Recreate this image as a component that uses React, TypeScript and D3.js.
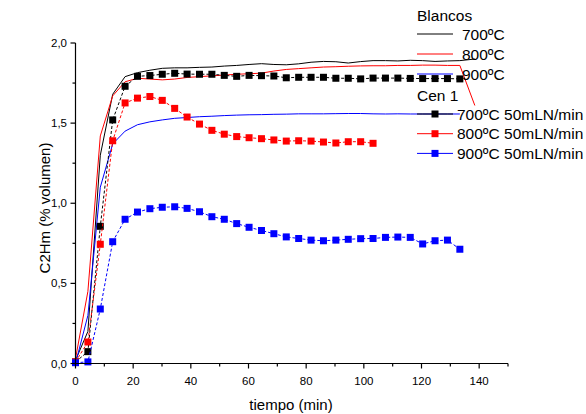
import React from "react";
import * as d3 from "d3";

// Sampling times (min)
const timesCen = [0, 4.3, 8.6, 12.9, 17.2, 21.5, 25.8, 30.1, 34.4, 38.7, 43, 47.3, 51.6, 55.9, 60.2, 64.5, 68.8, 73.1, 77.4, 81.7, 86, 90.3, 94.6, 98.9, 103.2, 107.5, 111.8, 116.1, 120.4, 124.7, 129, 133.3];
const timesBlanco = [0, 4.3, 8.6, 12.9, 17.2, 21.5, 25.8, 30.1, 34.4, 38.7, 43, 47.3, 51.6, 55.9, 60.2, 64.5, 68.8, 73.1, 77.4, 81.7, 86, 90.3, 94.6, 98.9, 103.2, 107.5, 111.8, 116.1, 120.4, 124.7, 129, 133.3, 138.5];

// Blancos (thin lines)
const blanco700 = [0.02, 0.2, 1.3, 1.68, 1.79, 1.815, 1.83, 1.842, 1.845, 1.845, 1.848, 1.85, 1.856, 1.86, 1.866, 1.871, 1.866, 1.864, 1.87, 1.88, 1.885, 1.883, 1.875, 1.884, 1.89, 1.89, 1.888, 1.892, 1.89, 1.885, 1.888, 1.89, 1.9];
const blanco800 = [0.03, 0.45, 1.42, 1.67, 1.758, 1.78, 1.775, 1.77, 1.775, 1.785, 1.79, 1.795, 1.8, 1.805, 1.808, 1.812, 1.825, 1.835, 1.84, 1.845, 1.85, 1.852, 1.855, 1.857, 1.858, 1.858, 1.86, 1.86, 1.862, 1.862, 1.86, 1.86, 1.61];
const blanco900 = [0.0, 0.3, 1.1, 1.37, 1.45, 1.49, 1.508, 1.52, 1.53, 1.535, 1.54, 1.543, 1.547, 1.55, 1.552, 1.553, 1.555, 1.556, 1.558, 1.558, 1.558, 1.559, 1.56, 1.56, 1.558, 1.557, 1.558, 1.557, 1.557, 1.557, 1.557, 1.557];

// Cen 1 at 50 mLN/min (squares)
const cen700 = [0.01, 0.074, 0.856, 1.52, 1.73, 1.792, 1.797, 1.805, 1.811, 1.806, 1.805, 1.805, 1.798, 1.792, 1.798, 1.796, 1.794, 1.783, 1.786, 1.786, 1.786, 1.78, 1.78, 1.776, 1.781, 1.781, 1.781, 1.779, 1.778, 1.778, 1.778, 1.776];
const cen800 = [0.01, 0.134, 0.744, 1.39, 1.626, 1.656, 1.666, 1.642, 1.592, 1.538, 1.494, 1.455, 1.431, 1.416, 1.409, 1.403, 1.395, 1.388, 1.39, 1.388, 1.382, 1.376, 1.384, 1.384, 1.374];
const cen900 = [0.005, 0.01, 0.34, 0.76, 0.9, 0.945, 0.966, 0.975, 0.978, 0.968, 0.947, 0.916, 0.9, 0.873, 0.85, 0.83, 0.81, 0.79, 0.78, 0.77, 0.766, 0.77, 0.775, 0.779, 0.78, 0.787, 0.789, 0.787, 0.746, 0.766, 0.77, 0.713];

const xTicks = [0, 20, 40, 60, 80, 100, 120, 140];
const yTicks = [0, 0.5, 1.0, 1.5, 2.0];

const blancoSeries = [
  { label: "700ºC", color: "#000000", values: blanco700 },
  { label: "800ºC", color: "#ff0000", values: blanco800 },
  { label: "900ºC", color: "#0000ff", values: blanco900 },
];
const cenSeries = [
  { label: "700ºC 50mLN/min", color: "#000000", values: cen700 },
  { label: "800ºC 50mLN/min", color: "#ff0000", values: cen800 },
  { label: "900ºC 50mLN/min", color: "#0000ff", values: cen900 },
];

const W = 586;
const H = 414;
const FONT = "'Liberation Sans', Arial, sans-serif";

export default function App() {
  const x = d3.scaleLinear().domain([0, 150]).range([75.5, 508]);
  const y = d3.scaleLinear().domain([0, 2]).range([363.5, 43]);
  const fmt = (v: number) => d3.format(".1f")(v).replace(".", ",");

  const line = (times: number[]) =>
    d3
      .line<number>()
      .x((_, i) => x(times[i]))
      .y((v) => y(v));

  const sq = 7;
  const minorX = d3.range(0, 151, 10);
  const minorY = d3.range(0, 2.01, 0.25);

  return (
    <svg
      width={W}
      height={H}
      style={{ position: "absolute", left: 0, top: 0, background: "#fff" }}
      fontFamily={FONT}
    >
      {/* blank runs */}
      {blancoSeries.map((s) => (
        <path
          key={s.label}
          d={line(timesBlanco)(s.values) || ""}
          fill="none"
          stroke={s.color}
          strokeWidth={1}
        />
      ))}
      {/* Cen 1 runs */}
      {cenSeries.map((s) => (
        <g key={s.label}>
          <path
            d={line(timesCen)(s.values) || ""}
            fill="none"
            stroke={s.color}
            strokeWidth={1}
            strokeDasharray="3,2"
          />
          {s.values.map((v, i) => (
            <rect
              key={i}
              x={x(timesCen[i]) - sq / 2}
              y={y(v) - sq / 2}
              width={sq}
              height={sq}
              fill={s.color}
            />
          ))}
        </g>
      ))}

      {/* axes */}
      <g stroke="#000" strokeWidth={1.2}>
        <line x1={x(0)} x2={x(0)} y1={y(0) + 0.6} y2={y(2)} />
        <line x1={x(0)} x2={x(150)} y1={y(0)} y2={y(0)} />
        {minorX.map((t) => (
          <line key={"xt" + t} x1={x(t)} x2={x(t)} y1={y(0)} y2={y(0) + (t % 20 === 0 ? 5 : 3)} />
        ))}
        {minorY.map((t) => (
          <line
            key={"yt" + t}
            x1={x(0)}
            x2={x(0) - (Math.abs(t * 2 - Math.round(t * 2)) < 1e-6 ? 5 : 3)}
            y1={y(t)}
            y2={y(t)}
          />
        ))}
      </g>
      <g fontSize={11.5} fill="#000">
        {xTicks.map((t) => (
          <text key={"xl" + t} x={x(t)} y={385} textAnchor="middle">
            {t}
          </text>
        ))}
        {yTicks.map((t) => (
          <text key={"yl" + t} x={67} y={y(t) + 4} textAnchor="end">
            {fmt(t)}
          </text>
        ))}
      </g>
      <text x={291} y={410} fontSize={15} textAnchor="middle">
        tiempo (min)
      </text>
      <text
        transform={`translate(50,${208}) rotate(-90)`}
        fontSize={15}
        textAnchor="middle"
      >
        C2Hm (% volumen)
      </text>

      {/* legend */}
      <g fontSize={15.5}>
        <text x={417} y={21}>Blancos</text>
        {blancoSeries.map((s, i) => (
          <g key={s.label}>
            <line x1={417} x2={453} y1={34 + i * 20} y2={34 + i * 20} stroke={s.color} strokeWidth={1} />
            <text x={462} y={34 + i * 20 + 5.5}>{s.label}</text>
          </g>
        ))}
        <text x={417} y={100.5}>Cen 1</text>
        {cenSeries.map((s, i) => {
          const yy = 114 + i * 19.7;
          return (
            <g key={s.label}>
              <line x1={417} x2={453} y1={yy} y2={yy} stroke={s.color} strokeWidth={1} />
              <rect x={435 - sq / 2} y={yy - sq / 2} width={sq} height={sq} fill={s.color} />
              <text x={457} y={yy + 5.5}>{s.label}</text>
            </g>
          );
        })}
      </g>
    </svg>
  );
}
